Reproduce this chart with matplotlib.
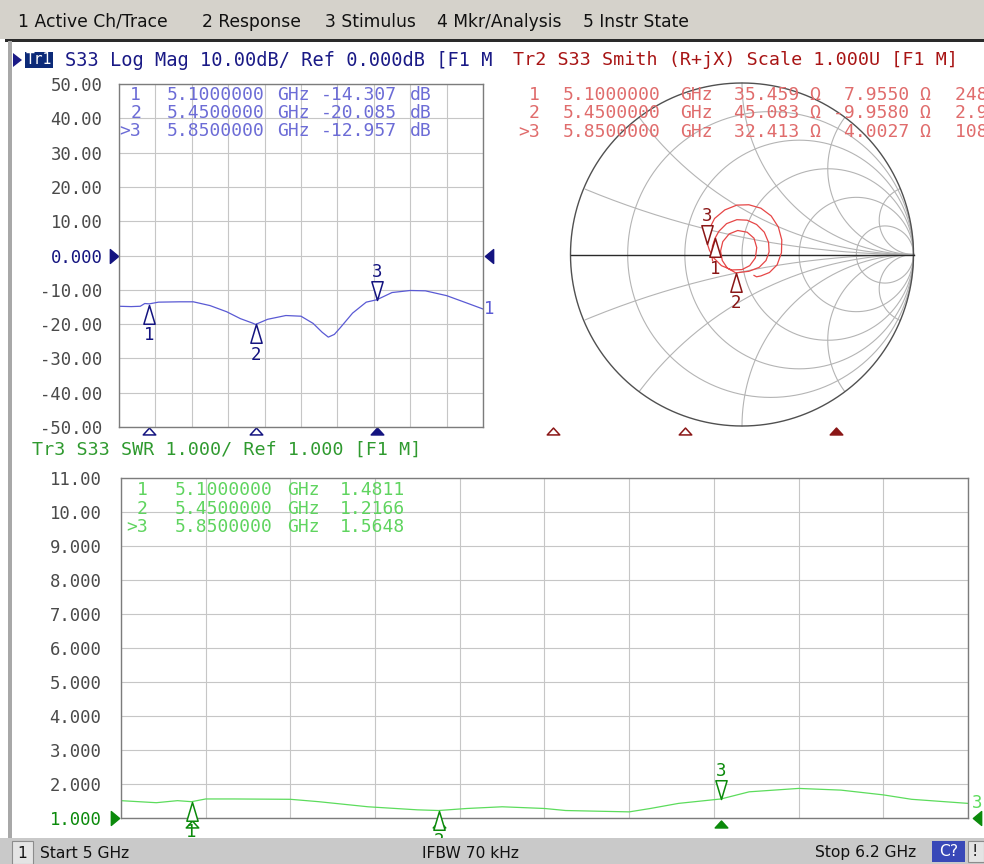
import numpy as np
import matplotlib
matplotlib.use("Agg")
import matplotlib.pyplot as plt
from matplotlib.path import Path
from matplotlib.patches import Rectangle, Polygon

W, H = 984, 864
MONO = "DejaVu Sans Mono"

# ---- trace data ----
freq_db = [5.000, 5.040, 5.070, 5.085, 5.100, 5.130, 5.200, 5.245, 5.300, 5.355,
           5.400, 5.440, 5.450, 5.490, 5.550, 5.600, 5.640, 5.670, 5.690, 5.710,
           5.730, 5.770, 5.815, 5.850, 5.900, 5.960, 6.010, 6.080, 6.145, 6.200]
log_mag = [-14.8, -14.9, -14.8, -14.0, -14.1, -13.6, -13.5, -13.5, -14.6, -16.4,
           -18.4, -19.7, -20.1, -18.6, -17.5, -17.7, -19.8, -22.4, -23.8, -23.0,
           -21.0, -16.8, -13.6, -12.9, -10.8, -10.2, -10.3, -11.7, -13.8, -15.6]

freq_swr = [5.00, 5.05, 5.08, 5.10, 5.12, 5.16, 5.24, 5.28, 5.35, 5.42, 5.45, 5.49,
            5.54, 5.60, 5.63, 5.72, 5.75, 5.79, 5.85, 5.89, 5.96, 6.02, 6.08, 6.12, 6.20]
swr = [1.51, 1.45, 1.51, 1.48, 1.56, 1.56, 1.55, 1.48, 1.33, 1.24, 1.22, 1.28,
       1.33, 1.28, 1.22, 1.18, 1.28, 1.43, 1.56, 1.77, 1.87, 1.82, 1.68, 1.55, 1.43]

# reflection coefficient (real / imag) of the Smith trace
smith_re = [-0.172, -0.177, -0.172, -0.157, -0.135, -0.090, -0.030, 0.030, 0.085, 0.130,
            0.155, 0.158, 0.140, 0.100, 0.040, -0.036, -0.085, -0.115, -0.125, -0.112,
            -0.075, -0.025, 0.030, 0.070, 0.086, 0.078, 0.045, 0.000, -0.060, -0.120,
            -0.165, -0.190, -0.202, -0.195, -0.160, -0.100, -0.030, 0.040, 0.110, 0.170,
            0.212, 0.232, 0.230, 0.205, 0.160, 0.110, 0.085, 0.070]
smith_im = [-0.035, 0.005, 0.050, 0.095, 0.135, 0.180, 0.203, 0.200, 0.175, 0.130,
            0.070, 0.015, -0.035, -0.075, -0.098, -0.107, -0.080, -0.035, 0.020, 0.075,
            0.120, 0.140, 0.130, 0.095, 0.040, -0.020, -0.065, -0.088, -0.090, -0.065,
            -0.020, 0.025, 0.062, 0.140, 0.210, 0.260, 0.288, 0.290, 0.270, 0.225,
            0.160, 0.085, 0.010, -0.060, -0.105, -0.125, -0.130, -0.122]

# ---- markers ----
mkr_name = ["1", "2", ">3"]
mkr_freq = [5.10, 5.45, 5.85]
mkr_db = [-14.307, -20.085, -12.957]
mkr_swr = [1.4811, 1.2166, 1.5648]
mkr_re = [-0.157, -0.036, -0.202]
mkr_im = [0.095, -0.107, 0.062]
mkr_r = ["35.459", "45.083", "32.413"]
mkr_x = ["7.9550", "-9.9580", "4.0027"]
mkr_lc = ["248.25 pH", "2.9325 pF", "108.90 pH"]

db_ticks = [50, 40, 30, 20, 10, 0, -10, -20, -30, -40, -50]
db_labels = ["50.00", "40.00", "30.00", "20.00", "10.00", "0.000",
             "-10.00", "-20.00", "-30.00", "-40.00", "-50.00"]
swr_ticks = [11, 10, 9, 8, 7, 6, 5, 4, 3, 2, 1]
swr_labels = ["11.00", "10.00", "9.000", "8.000", "7.000", "6.000",
              "5.000", "4.000", "3.000", "2.000", "1.000"]

menu_items = ["1 Active Ch/Trace", "2 Response", "3 Stimulus", "4 Mkr/Analysis", "5 Instr State"]
menu_x = [18, 202, 325, 437, 583]

# colours
c1_title, c1_trace, c1_text, c1_mkr = "#1a1a86", "#5a5ad4", "#6c6cd6", "#141480"
c2_title, c2_trace, c2_text, c2_mkr = "#a81414", "#e64646", "#e06c6c", "#8a1616"
c3_title, c3_trace, c3_text, c3_mkr = "#2f9a2f", "#5cdc5c", "#5fd45f", "#0b8a0b"
grid_c = "#c6c6c6"


def rect(x0, y0, x1, y1):
    return [x0 / W, 1 - y1 / H, (x1 - x0) / W, (y1 - y0) / H]


def tri(pts):
    return Path(pts + [pts[0]], [Path.MOVETO, Path.LINETO, Path.LINETO, Path.CLOSEPOLY])


mk_up = tri([(0, 0), (-0.3, -1), (0.3, -1)])
mk_dn = tri([(0, 0), (-0.3, 1), (0.3, 1)])
ind_up = tri([(0, 0.55), (-1, -0.55), (1, -0.55)])
ref_r = tri([(0.6, 0), (-0.6, 1), (-0.6, -1)])
ref_l = tri([(-0.6, 0), (0.6, 1), (0.6, -1)])


def grid_axes(ax, ymin, ymax, ticks, labels, lab_color, zero_label, zero_color, pad):
    ax.set_xlim(5.0, 6.2)
    ax.set_ylim(ymin, ymax)
    ax.set_xticks(np.linspace(5.0, 6.2, 11))
    ax.set_yticks(ticks)
    ax.set_yticklabels(labels)
    ax.grid(color=grid_c, lw=0.8)
    ax.tick_params(axis="x", length=0, labelbottom=False)
    ax.tick_params(axis="y", length=0, pad=pad, labelsize=12.4,
                   labelcolor=lab_color, labelfontfamily=MONO)
    for lab in ax.get_yticklabels():
        if lab.get_text() == zero_label:
            lab.set_color(zero_color)
    for sp in ax.spines.values():
        sp.set_color("#7c7c7c")
        sp.set_linewidth(1.0)


def draw_markers(ax, xs, ys, color):
    for i, (x, y) in enumerate(zip(xs, ys)):
        up = i < 2
        ax.plot(x, y, ls="none", marker=mk_up if up else mk_dn, ms=27, mfc="white",
                mec=color, mew=1.1, zorder=5, clip_on=False)
        ax.annotate(str(i + 1), (x, y), xytext=(0, -22 if up else 20),
                    textcoords="offset points", ha="center", va="center", color=color,
                    family=MONO, fontsize=12.5, annotation_clip=False, zorder=5)


def indicators(ax, xs, y, color, transform):
    for i, x in enumerate(xs):
        ax.plot(x, y, ls="none", marker=ind_up, ms=9, mec=color, mew=1.1,
                mfc=color if i == 2 else "white", transform=transform, clip_on=False)


fig = plt.figure(figsize=(W / 100, H / 100), dpi=100)
fig.patch.set_facecolor("white")

# ---- Tr1 log mag ----
ax1 = fig.add_axes(rect(119, 84, 483, 427))
grid_axes(ax1, -50, 50, db_ticks, db_labels, "#4a4a4a", "0.000", c1_mkr, 12)
ax1.plot(freq_db, log_mag, color=c1_trace, lw=0.9)
draw_markers(ax1, mkr_freq, mkr_db, c1_mkr)
indicators(ax1, mkr_freq, -0.013, c1_mkr, ax1.get_xaxis_transform())
ax1.plot(-0.014, 0, marker=ref_r, ms=10, color=c1_mkr, transform=ax1.get_yaxis_transform(), clip_on=False)
ax1.plot(1.016, 0, marker=ref_l, ms=10, color=c1_mkr, transform=ax1.get_yaxis_transform(), clip_on=False)
ax1.annotate("1", (freq_db[-1], log_mag[-1]), xytext=(1, 0), textcoords="offset points",
             ha="left", va="center", color=c1_trace, family=MONO, fontsize=12.5,
             annotation_clip=False)

# ---- Tr2 Smith chart ----
R = 171.5 * 1.03
ax2 = fig.add_axes(rect(742 - R, 254.5 - R, 742 + R, 254.5 + R))
ax2.set_xlim(-1.03, 1.03)
ax2.set_ylim(-1.03, 1.03)
ax2.axis("off")
th = np.linspace(0, 2 * np.pi, 721)
for r in [0.2, 0.5, 1, 2, 5]:
    c, rad = r / (1 + r), 1 / (1 + r)
    ax2.plot(c + rad * np.cos(th), rad * np.sin(th), color="#b4b4b4", lw=0.8)
for xr in [0.2, 0.5, 1, 2, 5, -0.2, -0.5, -1, -2, -5]:
    gx = 1 + np.cos(th) / abs(xr)
    gy = 1 / xr + np.sin(th) / abs(xr)
    inside = gx ** 2 + gy ** 2 <= 1.0001
    ax2.plot(np.where(inside, gx, np.nan), np.where(inside, gy, np.nan), color="#b4b4b4", lw=0.8)
ax2.plot(np.cos(th), np.sin(th), color="#505050", lw=1.0)
ax2.plot([-1, 1], [0, 0], color="#2a2a2a", lw=1.0)
ax2.plot(smith_re, smith_im, color=c2_trace, lw=0.9)
draw_markers(ax2, mkr_re, mkr_im, c2_mkr)

ax2i = fig.add_axes(rect(515, 425, 968, 437))
ax2i.set_xlim(5.0, 6.2)
ax2i.set_ylim(0, 1)
ax2i.axis("off")
indicators(ax2i, mkr_freq, 0.5, c2_mkr, ax2i.transData)

# ---- Tr3 SWR ----
ax3 = fig.add_axes(rect(121, 478, 968, 818))
grid_axes(ax3, 1, 11, swr_ticks, swr_labels, "#4a4a4a", "1.000", c3_mkr, 14)
ax3.plot(freq_swr, swr, color=c3_trace, lw=0.9)
draw_markers(ax3, mkr_freq, mkr_swr, c3_mkr)
indicators(ax3, mkr_freq, -0.017, c3_mkr, ax3.get_xaxis_transform())
ax3.plot(-0.007, 1, marker=ref_r, ms=10, color=c3_mkr, transform=ax3.get_yaxis_transform(), clip_on=False)
ax3.plot(1.0106, 1, marker=ref_l, ms=10, color=c3_mkr, transform=ax3.get_yaxis_transform(), clip_on=False)
ax3.annotate("3", (freq_swr[-1], swr[-1]), xytext=(3, 0), textcoords="offset points",
             ha="left", va="center", color=c3_trace, family=MONO, fontsize=12.5,
             annotation_clip=False)

# ---- overlay: window chrome and readouts ----
ov = fig.add_axes([0, 0, 1, 1], zorder=10)
ov.set_xlim(0, W)
ov.set_ylim(H, 0)
ov.axis("off")

ov.add_patch(Rectangle((0, 0), W, 39, fc="#d5d2cb", ec="none"))
ov.add_patch(Rectangle((5, 39), W, 2.5, fc="#2a2a2a", ec="none"))
ov.add_patch(Rectangle((8, 41), 4, 797, fc="#a8a8a8", ec="none"))
for s, x in zip(menu_items, menu_x):
    ov.text(x, 22, s, ha="left", va="center", fontsize=12.3, color="#111111")

# trace titles
ov.add_patch(Polygon([(13, 53), (22, 60), (13, 67)], fc=c1_title, ec="none"))
ov.add_patch(Rectangle((25, 52), 28, 16, fc="#0c2a78", ec="none"))
ov.text(39, 60, "Tr1", ha="center", va="center", family=MONO, fontsize=10.5,
        color="white")
ov.text(65, 60, "S33 Log Mag 10.00dB/ Ref 0.000dB [F1 M", ha="left", va="center",
        family=MONO, fontsize=13.4, color=c1_title)
ov.text(513, 60, "Tr2 S33 Smith (R+jX) Scale 1.000U [F1 M]", ha="left", va="center",
        family=MONO, fontsize=13.2, color=c2_title)
ov.text(32, 450, "Tr3 S33 SWR 1.000/ Ref 1.000 [F1 M]", ha="left", va="center",
        family=MONO, fontsize=13.2, color=c3_title)

# marker tables
tk = dict(va="center", family=MONO, fontsize=13)
for i in range(3):
    y = 95 + i * 18
    ov.text(141, y, mkr_name[i], ha="right", color=c1_text, **tk)
    ov.text(167, y, f"{mkr_freq[i]:.7f}", ha="left", color=c1_text, **tk)
    ov.text(277, y, "GHz", ha="left", color=c1_text, **tk)
    ov.text(397, y, f"{mkr_db[i]:.3f}", ha="right", color=c1_text, **tk)
    ov.text(410, y, "dB", ha="left", color=c1_text, **tk)

    y = 95 + i * 18.3
    ov.text(540, y, mkr_name[i], ha="right", color=c2_text, **tk)
    ov.text(563, y, f"{mkr_freq[i]:.7f}", ha="left", color=c2_text, **tk)
    ov.text(680, y, "GHz", ha="left", color=c2_text, **tk)
    ov.text(821, y, mkr_r[i] + " Ω", ha="right", color=c2_text, **tk)
    ov.text(931, y, mkr_x[i] + " Ω", ha="right", color=c2_text, **tk)
    ov.text(955, y, mkr_lc[i], ha="left", color=c2_text, **tk)

    y = 490 + i * 18.5
    ov.text(148, y, mkr_name[i], ha="right", color=c3_text, **tk)
    ov.text(175, y, f"{mkr_freq[i]:.7f}", ha="left", color=c3_text, **tk)
    ov.text(287, y, "GHz", ha="left", color=c3_text, **tk)
    ov.text(340, y, f"{mkr_swr[i]:.4f}", ha="left", color=c3_text, **tk)

# status bar
ov.add_patch(Rectangle((0, 838), W, 26, fc="#c9c9c9", ec="none"))
ov.add_patch(Rectangle((12, 841), 21, 23, fc="#e4e4e4", ec="#8c8c8c", lw=0.8))
ov.text(22.5, 853, "1", ha="center", va="center", fontsize=11.2, color="#111111")
ov.text(40, 853, "Start 5 GHz", ha="left", va="center", fontsize=11.2, color="#111111")
ov.text(422, 853, "IFBW 70 kHz", ha="left", va="center", fontsize=11.2, color="#111111")
ov.text(815, 853, "Stop 6.2 GHz", ha="left", va="center", fontsize=11.2, color="#111111")
ov.add_patch(Rectangle((932, 841), 33, 21, fc="#3848b8", ec="none"))
ov.text(948.5, 852, "C?", ha="center", va="center", fontsize=11.2, color="white")
ov.add_patch(Rectangle((968, 841), 16, 21, fc="#e4e4e4", ec="#8c8c8c", lw=0.8))
ov.text(975, 852, "!", ha="center", va="center", fontsize=11.2, color="#111111")

fig.savefig("out.png", dpi=100)
